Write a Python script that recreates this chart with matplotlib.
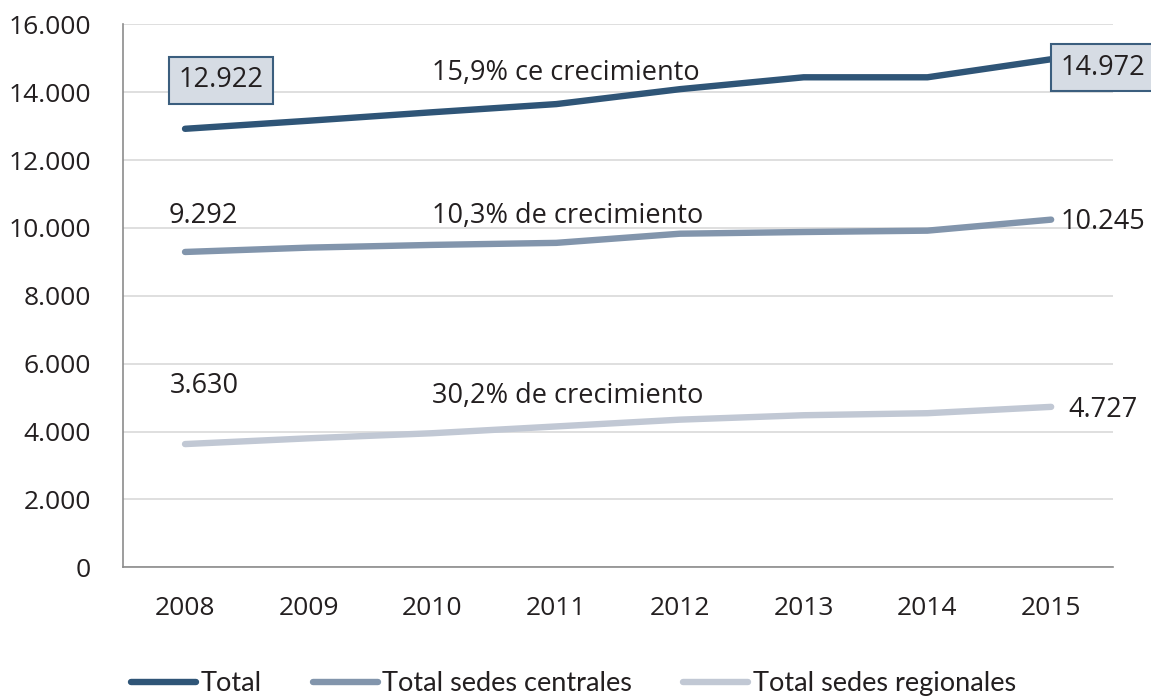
import matplotlib.pyplot as plt
from matplotlib.ticker import FuncFormatter

plt.rcParams['font.family'] = ['Open Sans', 'DejaVu Sans']

years = ['2008', '2009', '2010', '2011', '2012', '2013', '2014', '2015']
total = [12922, 13160, 13410, 13650, 14090, 14440, 14440, 14972]
centrales = [9292, 9420, 9500, 9560, 9830, 9880, 9920, 10245]
regionales = [3630, 3800, 3950, 4150, 4350, 4480, 4540, 4727]

series_names = ['Total', 'Total sedes centrales', 'Total sedes regionales']
growth_texts = ['15,9% ce crecimiento', '10,3% de crecimiento', '30,2% de crecimiento']

col_total = '#2f5577'
col_cent = '#8295ac'
col_reg = '#c1c8d4'
text_col = '#231f20'


def fmt(v):
    return f'{int(v):,}'.replace(',', '.')


fig = plt.figure(figsize=(11.51, 6.96), dpi=100)
ax = fig.add_axes([0.107, 0.185, 0.860, 0.780])

x = list(range(len(years)))
lw = 4.6
ax.plot(x, total, color=col_total, lw=lw, solid_capstyle='round', label=series_names[0], zorder=3)
ax.plot(x, centrales, color=col_cent, lw=lw, solid_capstyle='round', label=series_names[1], zorder=3)
ax.plot(x, regionales, color=col_reg, lw=lw, solid_capstyle='round', label=series_names[2], zorder=3)

ax.set_xlim(-0.5, 7.5)
ax.set_ylim(0, 16000)
ax.set_yticks(range(0, 16001, 2000))
ax.yaxis.set_major_formatter(FuncFormatter(lambda v, p: fmt(v)))
ax.set_xticks(x)
ax.set_xticklabels(years)
ax.tick_params(axis='both', length=0, labelsize=19, colors=text_col)
ax.tick_params(axis='y', pad=23)
ax.tick_params(axis='x', pad=21)
ax.grid(axis='y', color='#d9d9d9', lw=1.2)
ax.set_axisbelow(True)
for s in ['top', 'right']:
    ax.spines[s].set_visible(False)
for s in ['left', 'bottom']:
    ax.spines[s].set_color('#8c8c8c')
    ax.spines[s].set_linewidth(1.2)

box = dict(boxstyle='square,pad=0.35', facecolor='#d6dce4', edgecolor='#3b5e7e', lw=1.5)
fs = 19.5
ax.annotate(fmt(total[0]), (0, total[0]), xytext=(26, 35),
            textcoords='offset points', ha='center', va='center', fontsize=fs,
            color=text_col, bbox=box, zorder=5)
ax.annotate(fmt(total[-1]), (7, total[-1]), xytext=(37, -6),
            textcoords='offset points', ha='center', va='center', fontsize=fs,
            color=text_col, bbox=box, zorder=5, annotation_clip=False)
ax.annotate(fmt(centrales[0]), (0, centrales[0]), xytext=(13, 26),
            textcoords='offset points', ha='center', va='center', fontsize=fs, color=text_col)
ax.annotate(fmt(centrales[-1]), (7, centrales[-1]), xytext=(37, -1.5),
            textcoords='offset points', ha='center', va='center', fontsize=fs, color=text_col,
            annotation_clip=False)
ax.annotate(fmt(regionales[0]), (0, regionales[0]), xytext=(14, 42),
            textcoords='offset points', ha='center', va='center', fontsize=fs, color=text_col)
ax.annotate(fmt(regionales[-1]), (7, regionales[-1]), xytext=(37, -2),
            textcoords='offset points', ha='center', va='center', fontsize=fs, color=text_col,
            annotation_clip=False)

ax.text(2, 14560, growth_texts[0], ha='left', va='center', fontsize=fs, color=text_col)
ax.text(2, 10360, growth_texts[1], ha='left', va='center', fontsize=fs, color=text_col)
ax.text(2, 5060, growth_texts[2], ha='left', va='center', fontsize=fs, color=text_col)

leg = fig.legend(loc='lower left', bbox_to_anchor=(0.093, -0.035), ncol=3, frameon=False,
                 prop={'family': 'Lato', 'size': 19.5}, handlelength=2.4,
                 handletextpad=0.15, columnspacing=1.9, labelcolor=text_col)

fig.savefig('out.png', dpi=100)
